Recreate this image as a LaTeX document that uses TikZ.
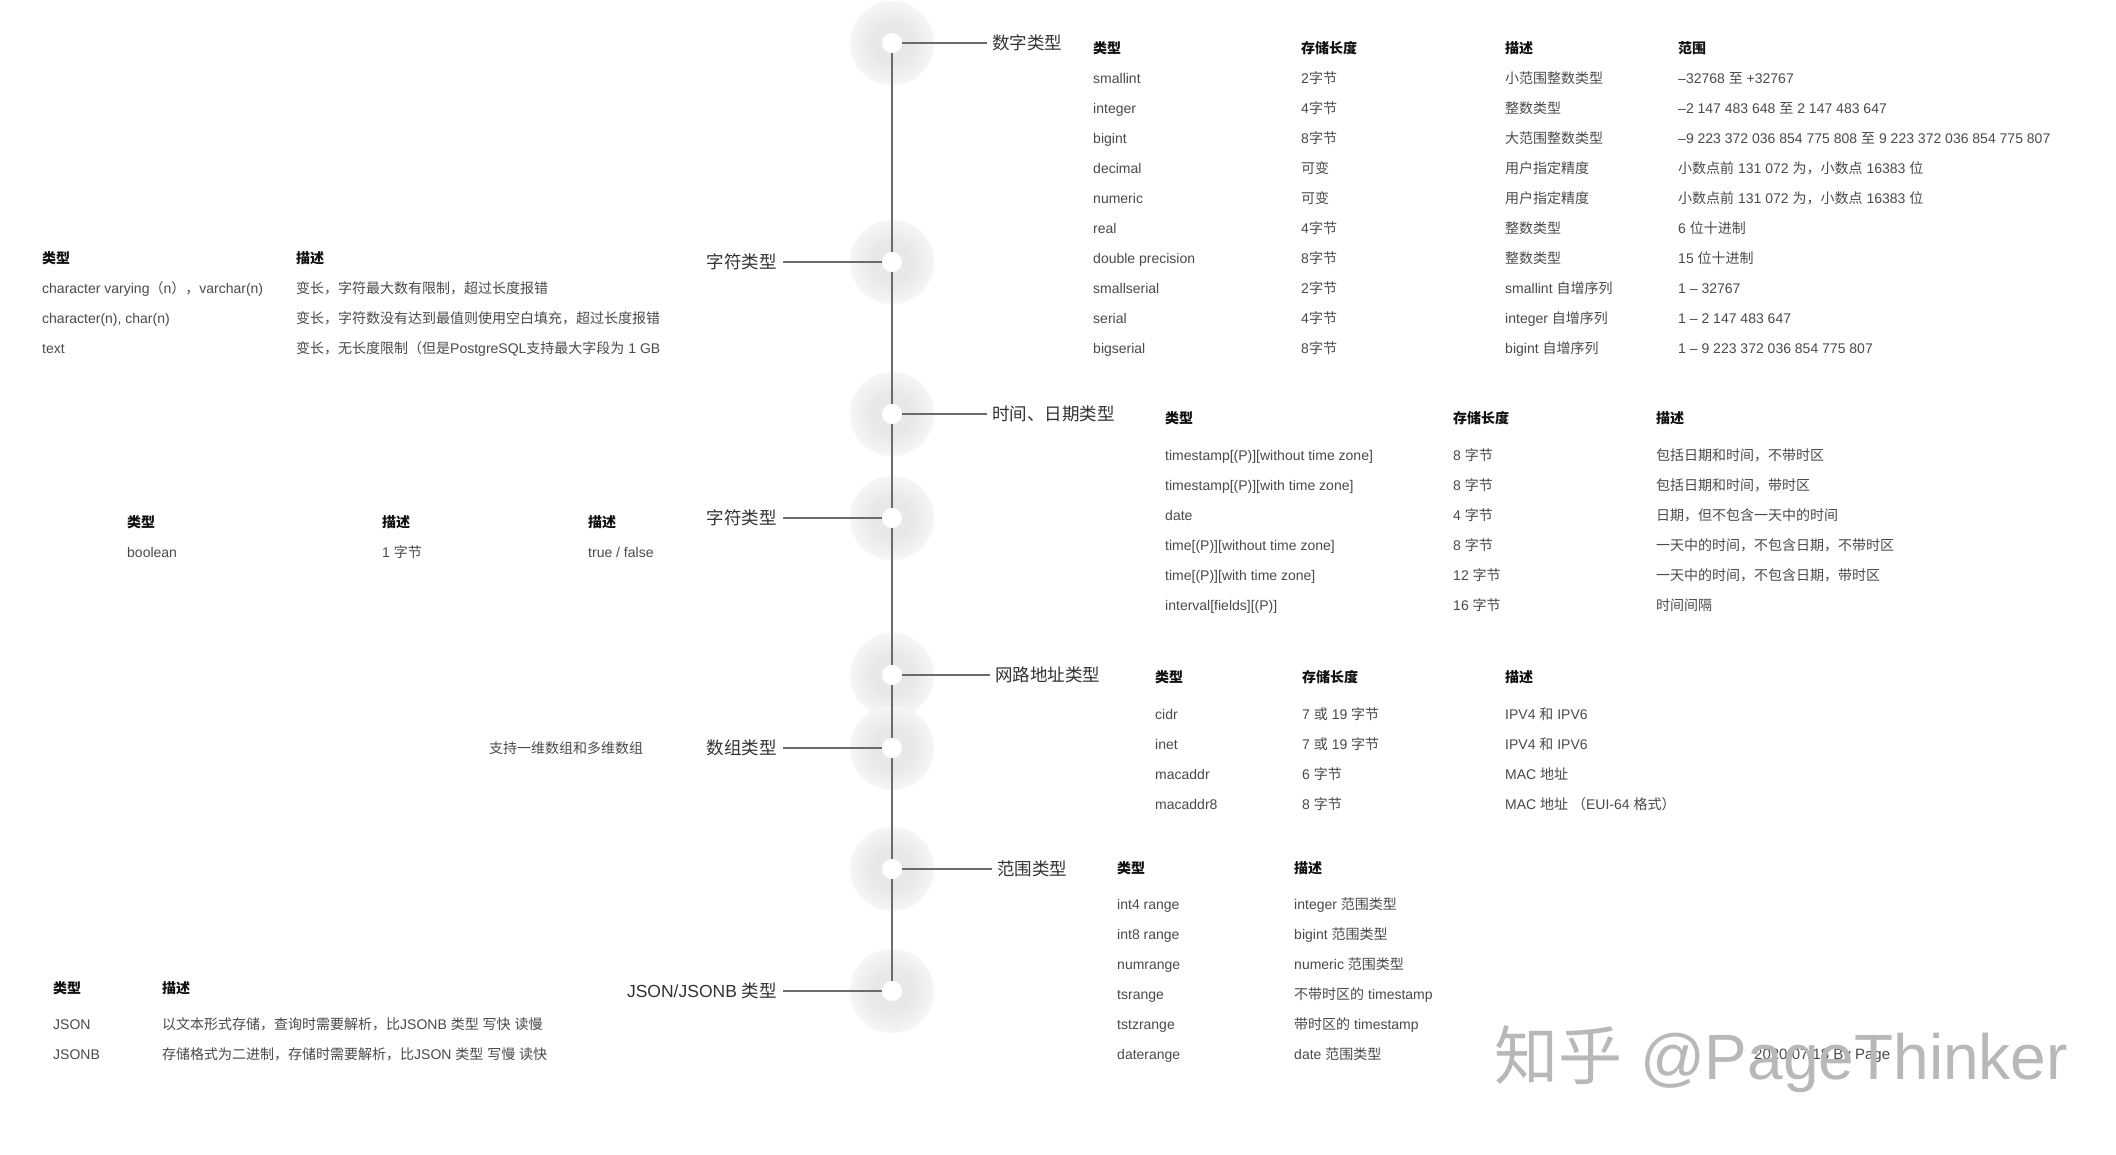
\documentclass[tikz,border=0pt]{standalone}
\usepackage{fontspec}
\setmainfont{Liberation Sans}
\newfontfamily\cjkfont{Noto Sans CJK SC}
% CJK characters switch to the CJK font
\XeTeXinterchartokenstate=1
\newXeTeXintercharclass\cjkclass
\newcount\cjkcode
\cjkcode="3000
\loop
  \XeTeXcharclass\cjkcode=\cjkclass
  \ifnum\cjkcode<"9FFF \advance\cjkcode by 1
\repeat
\cjkcode="FF00
\loop
  \XeTeXcharclass\cjkcode=\cjkclass
  \ifnum\cjkcode<"FFEF \advance\cjkcode by 1
\repeat
\XeTeXinterchartoks 0 \cjkclass = {\begingroup\cjkfont}
\XeTeXinterchartoks 4095 \cjkclass = {\begingroup\cjkfont}
\XeTeXinterchartoks \cjkclass 0 = {\endgroup}
\XeTeXinterchartoks \cjkclass 4095 = {\endgroup}

\definecolor{linegray}{HTML}{6B6B6B}
\definecolor{textgray}{HTML}{4A4A4A}
\definecolor{labelgray}{HTML}{333333}
\definecolor{headblack}{HTML}{111111}
\definecolor{markgray}{HTML}{B8B8B8}
\colorlet{glowA}{black!9}
\colorlet{glowB}{black!4}
\colorlet{glowC}{black!1}
\pgfdeclareradialshading{dotglow}{\pgfpoint{0bp}{0bp}}{color(0bp)=(glowA); color(12bp)=(glowA); color(24bp)=(glowB); color(36bp)=(glowC); color(50bp)=(white)}

\begin{document}
\begin{tikzpicture}[x=1pt,y=-1pt,
  cell/.style={anchor=west,inner sep=0pt,text=textgray,font=\fontsize{14}{16}\selectfont,text height=11pt,text depth=1pt},
  head/.style={cell,text=headblack,font=\fontsize{14}{16}\selectfont\bfseries},
  branchR/.style={anchor=west,inner xsep=5pt,inner ysep=0pt,text=labelgray,font=\fontsize{17.5}{20}\selectfont,text height=15pt,text depth=2pt},
  branchL/.style={branchR,anchor=east,inner xsep=6pt},
  dot/.style={circle,fill=white,minimum size=20pt,inner sep=0pt},
  trunk/.style={draw=linegray,line width=1.1pt}]
  \fill[white] (0,0) rectangle (2116,1154);
  \useasboundingbox (0,0) rectangle (2116,1154);

  \coordinate (t1) at (892,43);
  \coordinate (t2) at (892,262);
  \coordinate (t3) at (892,414);
  \coordinate (t4) at (892,518);
  \coordinate (t5) at (892,675);
  \coordinate (t6) at (892,748);
  \coordinate (t7) at (892,869);
  \coordinate (t8) at (892,991);
  \foreach \k in {1,...,8} \shade[shading=dotglow] (t\k) circle (42);
  \draw[trunk] (t1) -- (t8);
  \foreach \k in {1,...,8} \node[dot] (c\k) at (t\k) {};

  \node[branchR] (b1) at (987,43) {数字类型};
  \node[branchL] (b2) at (783,262) {字符类型};
  \node[branchR] (b3) at (987,414) {时间、日期类型};
  \node[branchL] (b4) at (783,518) {字符类型};
  \node[branchR] (b5) at (990,675) {网路地址类型};
  \node[branchL] (b6) at (783,748) {数组类型};
  \node[branchR] (b7) at (992,869) {范围类型};
  \node[branchL] (b8) at (783,991) {JSON/JSONB 类型};
  \foreach \k/\s in {1/west,2/east,3/west,4/east,5/west,6/east,7/west,8/east}
    \draw[trunk] (c\k) -- (b\k.\s);

  \node[head] (num-h1) at (1093,48) {类型};
  \node[head] (num-h2) at (1301,48) {存储长度};
  \node[head] (num-h3) at (1505,48) {描述};
  \node[head] (num-h4) at (1678,48) {范围};
  \foreach \ty/\sz/\ds/\rg [count=\i] in {smallint/2字节/小范围整数类型/–32768 至 +32767,
      integer/4字节/整数类型/–2 147 483 648 至 2 147 483 647,
      bigint/8字节/大范围整数类型/–9 223 372 036 854 775 808 至 9 223 372 036 854 775 807,
      decimal/可变/用户指定精度/小数点前 131 072 为，小数点 16383 位,
      numeric/可变/用户指定精度/小数点前 131 072 为，小数点 16383 位,
      real/4字节/整数类型/6 位十进制,
      double precision/8字节/整数类型/15 位十进制,
      smallserial/2字节/smallint 自增序列/1 – 32767,
      serial/4字节/integer 自增序列/1 – 2 147 483 647,
      bigserial/8字节/bigint 自增序列/1 – 9 223 372 036 854 775 807}{
    \node[cell] (num-a\i) at (1093,{48+30*\i}) {\ty};
    \node[cell] (num-b\i) at (1301,{48+30*\i}) {\sz};
    \node[cell] (num-c\i) at (1505,{48+30*\i}) {\ds};
    \node[cell] (num-d\i) at (1678,{48+30*\i}) {\rg};
  }

  \node[head] (chr-h1) at (42,258) {类型};
  \node[head] (chr-h2) at (296,258) {描述};
  \foreach \ty/\ds [count=\i] in {character varying（n），varchar(n)/变长，字符最大数有限制，超过长度报错,
      {character(n), char(n)}/变长，字符数没有达到最值则使用空白填充，超过长度报错,
      text/变长，无长度限制（但是PostgreSQL支持最大字段为 1 GB}{
    \node[cell] (chr-a\i) at (42,{258+30*\i}) {\ty};
    \node[cell] (chr-b\i) at (296,{258+30*\i}) {\ds};
  }

  \node[head] (tim-h1) at (1165,418) {类型};
  \node[head] (tim-h2) at (1453,418) {存储长度};
  \node[head] (tim-h3) at (1656,418) {描述};
  \foreach \ty/\sz/\ds [count=\i] in {timestamp[(P)][without time zone]/8 字节/包括日期和时间，不带时区,
      timestamp[(P)][with time zone]/8 字节/包括日期和时间，带时区,
      date/4 字节/日期，但不包含一天中的时间,
      time[(P)][without time zone]/8 字节/一天中的时间，不包含日期，不带时区,
      time[(P)][with time zone]/12 字节/一天中的时间，不包含日期，带时区,
      interval[fields][(P)]/16 字节/时间间隔}{
    \node[cell] (tim-a\i) at (1165,{425+30*\i}) {\ty};
    \node[cell] (tim-b\i) at (1453,{425+30*\i}) {\sz};
    \node[cell] (tim-c\i) at (1656,{425+30*\i}) {\ds};
  }

  \node[head] (bool-h1) at (127,522) {类型};
  \node[head] (bool-h2) at (382,522) {描述};
  \node[head] (bool-h3) at (588,522) {描述};
  \node[cell] (bool-a1) at (127,552) {boolean};
  \node[cell] (bool-b1) at (382,552) {1 字节};
  \node[cell] (bool-c1) at (588,552) {true / false};

  \node[head] (net-h1) at (1155,677) {类型};
  \node[head] (net-h2) at (1302,677) {存储长度};
  \node[head] (net-h3) at (1505,677) {描述};
  \foreach \ty/\sz/\ds [count=\i] in {cidr/7 或 19 字节/IPV4 和 IPV6,
      inet/7 或 19 字节/IPV4 和 IPV6,
      macaddr/6 字节/MAC 地址,
      macaddr8/8 字节/MAC 地址 （EUI-64 格式）}{
    \node[cell] (net-a\i) at (1155,{684+30*\i}) {\ty};
    \node[cell] (net-b\i) at (1302,{684+30*\i}) {\sz};
    \node[cell] (net-c\i) at (1505,{684+30*\i}) {\ds};
  }

  \node[cell] (arr-note) at (489,748) {支持一维数组和多维数组};

  \node[head] (rng-h1) at (1117,868) {类型};
  \node[head] (rng-h2) at (1294,868) {描述};
  \foreach \ty/\ds [count=\i] in {int4 range/integer 范围类型,
      int8 range/bigint 范围类型,
      numrange/numeric 范围类型,
      tsrange/不带时区的 timestamp,
      tstzrange/带时区的 timestamp,
      daterange/date 范围类型}{
    \node[cell] (rng-a\i) at (1117,{874+30*\i}) {\ty};
    \node[cell] (rng-b\i) at (1294,{874+30*\i}) {\ds};
  }

  \node[head] (json-h1) at (53,988) {类型};
  \node[head] (json-h2) at (162,988) {描述};
  \foreach \ty/\ds [count=\i] in {JSON/以文本形式存储，查询时需要解析，比JSONB 类型 写快 读慢,
      JSONB/存储格式为二进制，存储时需要解析，比JSON 类型 写慢 读快}{
    \node[cell] (json-a\i) at (53,{994+30*\i}) {\ty};
    \node[cell] (json-b\i) at (162,{994+30*\i}) {\ds};
  }

  \node[cell,font=\fontsize{15}{17}\selectfont] (stamp) at (1754,1054) {2020/07/18 By Page};
  \node[anchor=west,inner sep=0pt,text=markgray,font=\fontsize{64}{72}\selectfont] (mark) at (1494,1059) {知乎 @PageThinker};
\end{tikzpicture}
\end{document}
